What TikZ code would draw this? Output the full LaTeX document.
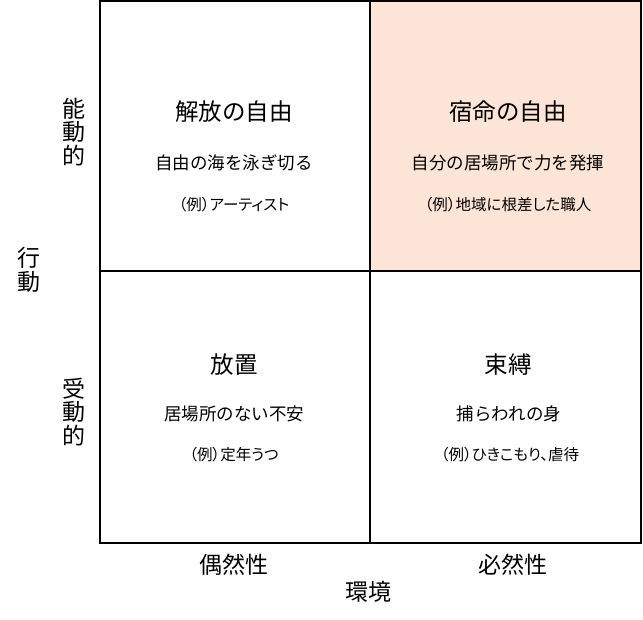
\documentclass[tikz,border=0pt]{standalone}
\usepackage{fontspec}
\setmainfont{Noto Sans CJK JP}
\newfontfamily\palfont[RawFeature=+palt]{Noto Sans CJK JP}
\definecolor{peach}{HTML}{FCE4D6}
\begin{document}
\begin{tikzpicture}[x=1pt,y=-1pt,
  title/.style={font=\fontsize{23.5}{25}\selectfont,inner sep=0pt},
  sub/.style={font=\fontsize{17.5}{19}\selectfont,inner sep=0pt},
  ex/.style={font=\palfont\fontsize{15.5}{17}\selectfont,inner sep=0pt},
  axis/.style={font=\fontsize{23}{23.5}\selectfont,inner sep=0pt,align=center},
  grid/.style={line width=2pt,black}]
\useasboundingbox (0,0) rectangle (643,620);
\fill[peach] (370,1.5) rectangle (641,271);
\draw[grid] (100,1.5) rectangle (641,543);
\draw[grid] (370,1.5) -- (370,543);
\draw[grid] (100,271) -- (641,271);
% top-left
\node[title] (tlt) at (234,112) {解放の自由};
\node[sub] (tls) at (234,163) {自由の海を泳ぎ切る};
\node[ex] (tle) at (234,205) {（例）アーティスト};
% top-right
\node[title] (trt) at (508,112) {宿命の自由};
\node[sub] (trs) at (508,163) {自分の居場所で力を発揮};
\node[ex] (tre) at (508,205) {（例）地域に根差した職人};
% bottom-left
\node[title] (blt) at (234,365) {放置};
\node[sub] (bls) at (234,414) {居場所のない不安};
\node[ex] (ble) at (234,455) {（例）定年うつ};
% bottom-right
\node[title] (brt) at (508,365) {束縛};
\node[sub] (brs) at (509,414) {捕らわれの身};
\node[ex] (bre) at (510,455) {（例）ひきこもり、虐待};
% axes
\node[axis] (act) at (74,132) {能\\動\\的};
\node[axis] (pas) at (74,412) {受\\動\\的};
\node[axis] (beh) at (29,270) {行\\動};
\node[axis] (chance) at (234,565) {偶然性};
\node[axis] (nec) at (513,565) {必然性};
\node[axis] (env) at (368,592) {環境};
\end{tikzpicture}
\end{document}
